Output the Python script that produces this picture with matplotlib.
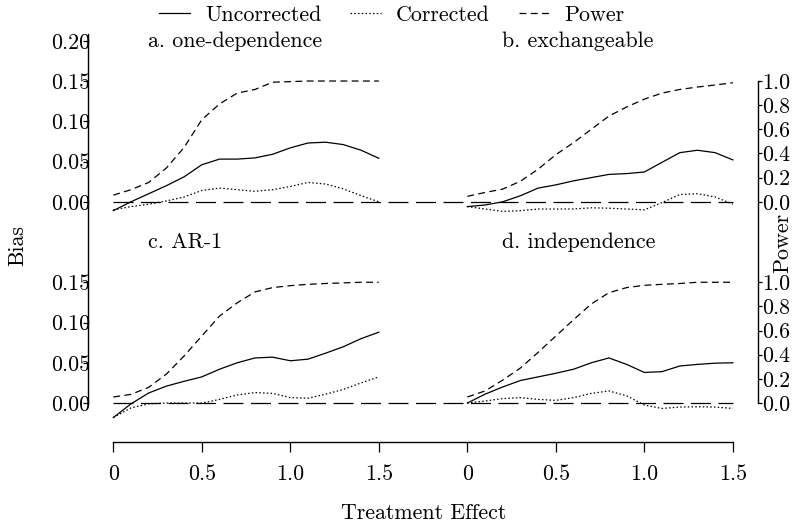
import matplotlib
matplotlib.use("Agg")
import matplotlib.pyplot as plt
from matplotlib.lines import Line2D

plt.rcParams['font.family'] = ['cmr10', 'DejaVu Serif']
plt.rcParams['axes.formatter.use_mathtext'] = True
FS = 15.8
plt.rcParams['font.size'] = FS

# treatment effect grid
effect = [0.0, 0.1, 0.2, 0.3, 0.4, 0.5, 0.6, 0.7, 0.8, 0.9, 1.0, 1.1, 1.2, 1.3, 1.4, 1.5]

# a. one-dependence
unc_a = [-0.011, 0.000, 0.010, 0.020, 0.031, 0.046, 0.053, 0.053, 0.0545, 0.059,
         0.067, 0.073, 0.074, 0.071, 0.064, 0.054]
cor_a = [-0.010, -0.006, -0.003, 0.001, 0.006, 0.014, 0.017, 0.015, 0.013, 0.015,
         0.019, 0.024, 0.022, 0.016, 0.0075, 0.000]
pow_a = [0.055, 0.10, 0.16, 0.28, 0.45, 0.68, 0.81, 0.90, 0.93, 0.99,
         0.995, 1.0, 1.0, 1.0, 1.0, 1.0]

# b. exchangeable
unc_b = [-0.006, -0.004, 0.000, 0.0075, 0.017, 0.021, 0.026, 0.030, 0.034, 0.035,
         0.037, 0.049, 0.061, 0.064, 0.061, 0.052]
cor_b = [-0.006, -0.009, -0.012, -0.011, -0.009, -0.009, -0.009, -0.0075, -0.008, -0.009,
         -0.010, -0.001, 0.009, 0.010, 0.006, -0.003]
pow_b = [0.045, 0.077, 0.105, 0.17, 0.27, 0.39, 0.49, 0.60, 0.71, 0.785,
         0.85, 0.90, 0.93, 0.95, 0.967, 0.986]

# c. AR-1
unc_c = [-0.018, -0.001, 0.0125, 0.021, 0.027, 0.0325, 0.042, 0.050, 0.056, 0.057,
         0.0525, 0.0545, 0.062, 0.070, 0.080, 0.088]
cor_c = [-0.018, -0.006, -0.001, 0.000, 0.000, 0.000, 0.0045, 0.010, 0.013, 0.012,
         0.0067, 0.006, 0.011, 0.017, 0.025, 0.0325]
pow_c = [0.05, 0.072, 0.13, 0.24, 0.39, 0.555, 0.72, 0.83, 0.92, 0.956,
         0.972, 0.983, 0.99, 0.995, 1.0, 1.0]

# d. independence
unc_d = [0.000, 0.011, 0.020, 0.028, 0.0325, 0.037, 0.042, 0.050, 0.056, 0.048,
         0.038, 0.039, 0.046, 0.048, 0.0495, 0.050]
cor_d = [0.000, 0.0025, 0.0055, 0.0067, 0.0045, 0.0033, 0.0067, 0.012, 0.015, 0.009,
         -0.0025, -0.0067, -0.005, -0.0046, -0.005, -0.0067]
pow_d = [0.05, 0.10, 0.19, 0.29, 0.42, 0.555, 0.69, 0.82, 0.914, 0.956,
         0.975, 0.983, 0.99, 1.0, 1.0, 1.0]

titles = ["a. one-dependence", "b. exchangeable", "c. AR-1", "d. independence"]
uncorrected = [unc_a, unc_b, unc_c, unc_d]
corrected = [cor_a, cor_b, cor_c, cor_d]
power = [pow_a, pow_b, pow_c, pow_d]

# all four panels live on one set of axes, shifted by these offsets
col_shift = [0.0, 2.0, 0.0, 2.0]
row_shift = [0.25, 0.25, 0.0, 0.0]
power_scale = 0.15   # power 1.0 sits at bias 0.15

ls_cor = (0, (1.2, 1.8))
ls_pow = (0, (5.5, 3.5))
ls_zero = (0, (16, 6))

fig = plt.figure(figsize=(7.94, 5.27), dpi=100)
ax = fig.add_axes([88 / 794, 1 - 442 / 527, 670 / 794, 408 / 527])
ytop = 0.4584
ax.set_xlim(-0.143, 3.642)
ax.set_ylim(-0.0484, ytop)

for k in range(4):
    xs = [e + col_shift[k] for e in effect]
    ax.plot(xs, [v + row_shift[k] for v in uncorrected[k]], color='black', lw=0.9)
    ax.plot(xs, [v + row_shift[k] for v in corrected[k]], color='black', lw=0.9, linestyle=ls_cor)
    ax.plot(xs, [p * power_scale + row_shift[k] for p in power[k]], color='black', lw=0.9,
            linestyle=ls_pow)
    ax.text(0.196 + col_shift[k], 0.20 + row_shift[k], titles[k], ha='left', va='center',
            fontsize=FS)

# zero reference line across each row
for r in [0.25, 0.0]:
    ax.hlines(r, 0, 3.5, color='black', lw=0.9, linestyle=ls_zero)

bias_ticks = [0.00, 0.05, 0.10, 0.15]
top_ticks = [0.00, 0.05, 0.10, 0.15, 0.20]
ax.set_yticks(bias_ticks + [t + 0.25 for t in top_ticks])
ax.set_yticklabels(['%.2f' % t for t in bias_ticks] + ['%.2f' % t for t in top_ticks])

xt = [0, 0.5, 1.0, 1.5]
ax.set_xticks(xt + [t + 2.0 for t in xt])
ax.set_xticklabels(['0', '0.5', '1.0', '1.5'] * 2)

for s in ['top', 'right']:
    ax.spines[s].set_visible(False)
ax.spines['left'].set_bounds(0, ytop)
ax.spines['bottom'].set_bounds(0, 3.5)
ax.spines['left'].set_linewidth(1.0)
ax.spines['bottom'].set_linewidth(1.0)
ax.tick_params(axis='y', direction='out', length=3.6, width=0.9, pad=-5.2, labelsize=FS)
ax.tick_params(axis='x', direction='out', length=7.2, width=0.9, pad=9, labelsize=FS)

ax2 = ax.twinx()
ax2.set_ylim(ax.get_ylim())
pw_ticks = [0.0, 0.2, 0.4, 0.6, 0.8, 1.0]
ax2.set_yticks([p * power_scale for p in pw_ticks] +
               [p * power_scale + 0.25 for p in pw_ticks])
ax2.set_yticklabels(['%.1f' % p for p in pw_ticks] * 2)
for s in ['top', 'left', 'bottom']:
    ax2.spines[s].set_visible(False)
ax2.spines['right'].set_bounds(0, 0.25 + power_scale)
ax2.spines['right'].set_linewidth(1.0)
ax2.tick_params(axis='y', direction='out', length=3, width=0.9, pad=0, labelsize=FS)

fig.text(18 / 794, 1 - 245 / 527, 'Bias', rotation=90, ha='center', va='center', fontsize=FS)
fig.text(783 / 794, 1 - 243 / 527, 'Power', rotation=90, ha='center', va='center', fontsize=FS)
fig.text(424 / 794, 1 - 513 / 527, 'Treatment Effect', ha='center', va='center', fontsize=FS)

handles = [Line2D([], [], color='black', lw=0.9),
           Line2D([], [], color='black', lw=0.9, linestyle=ls_cor),
           Line2D([], [], color='black', lw=0.9, linestyle=ls_pow)]
fig.legend(handles, ['Uncorrected', 'Corrected', 'Power'], ncol=3, frameon=False,
           loc='center', bbox_to_anchor=(392 / 794, 1 - 15 / 527), fontsize=FS,
           handlelength=1.4, handletextpad=0.7, columnspacing=1.3)

fig.savefig('out.png', dpi=100)
